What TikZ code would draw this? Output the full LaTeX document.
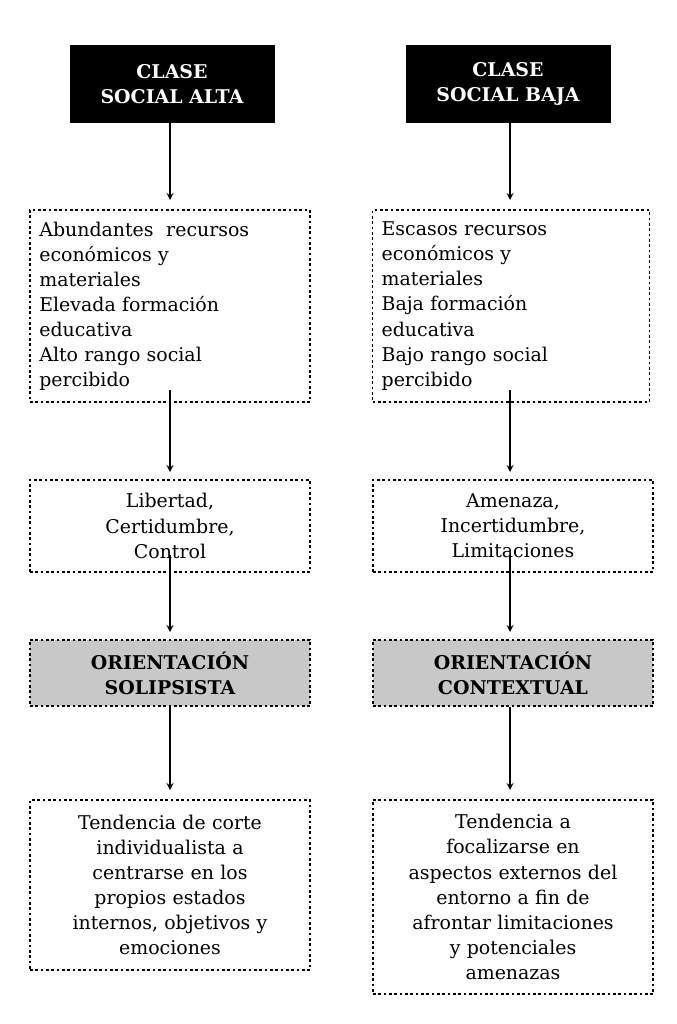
\documentclass[tikz,border=0pt]{standalone}
\usepackage{fontspec}
\setmainfont{DejaVu Serif}
\definecolor{boxgray}{RGB}{200, 200, 200}
\begin{document}
\begin{tikzpicture}[
    x=0.75pt, y=-0.75pt,
    font=\fontsize{14.2}{18.8}\selectfont,
    head/.style={rectangle, fill=black, text=white, minimum width=153.75pt, minimum height=57.75pt, align=center, font=\fontsize{14.2}{18.8}\selectfont\bfseries},
    info/.style={rectangle, draw, line width=1.3pt, dash pattern=on 2pt off 2pt, minimum width=210pt, align=center, text width=196pt},
    orient/.style={info, fill=boxgray, font=\fontsize{14.2}{18.8}\selectfont\bfseries},
    arrow/.style={->, line width=1.3pt, >=stealth}
]
    \useasboundingbox (0,0) rectangle (676,1024);

    % Clase social alta
    \node[head] (alta) at (172,84) {CLASE\\SOCIAL ALTA};
    \node[info, minimum height=144pt, align=left] (alta_rec) at (170,306) {Abundantes\ \ recursos\\económicos y\\materiales\\Elevada formación\\educativa\\Alto rango social\\percibido};
    \node[info, minimum height=69pt] (alta_sent) at (170,526) {Libertad,\\Certidumbre,\\Control};
    \node[orient, minimum height=50pt] (alta_ori) at (170,673) {ORIENTACIÓN\\SOLIPSISTA};
    \node[info, minimum height=127.5pt] (alta_tend) at (170,885) {Tendencia de corte\\individualista a\\centrarse en los\\propios estados\\internos, objetivos y\\emociones};

    % Clase social baja
    \node[head] (baja) at (508,84) {CLASE\\SOCIAL BAJA};
    \node[info, minimum height=144pt, minimum width=207.75pt, text width=194pt, align=left] (baja_rec) at (511,306) {Escasos recursos\\económicos y\\materiales\\Baja formación\\educativa\\Bajo rango social\\percibido};
    \node[info, minimum height=69pt] (baja_sent) at (513,526) {Amenaza,\\Incertidumbre,\\Limitaciones};
    \node[orient, minimum height=50pt] (baja_ori) at (513,673) {ORIENTACIÓN\\CONTEXTUAL};
    \node[info, minimum height=146pt] (baja_tend) at (513,897) {Tendencia a\\focalizarse en\\aspectos externos del\\entorno a fin de\\afrontar limitaciones\\y potenciales\\amenazas};

    % Arrows
    \draw[arrow] (170,122) -- (170,200);
    \draw[arrow] (170,390) -- (170,472);
    \draw[arrow] (170,555) -- (170,632);
    \draw[arrow] (170,707) -- (170,790);

    \draw[arrow] (510,122) -- (510,200);
    \draw[arrow] (510,390) -- (510,472);
    \draw[arrow] (510,555) -- (510,632);
    \draw[arrow] (510,707) -- (510,790);
\end{tikzpicture}
\end{document}
